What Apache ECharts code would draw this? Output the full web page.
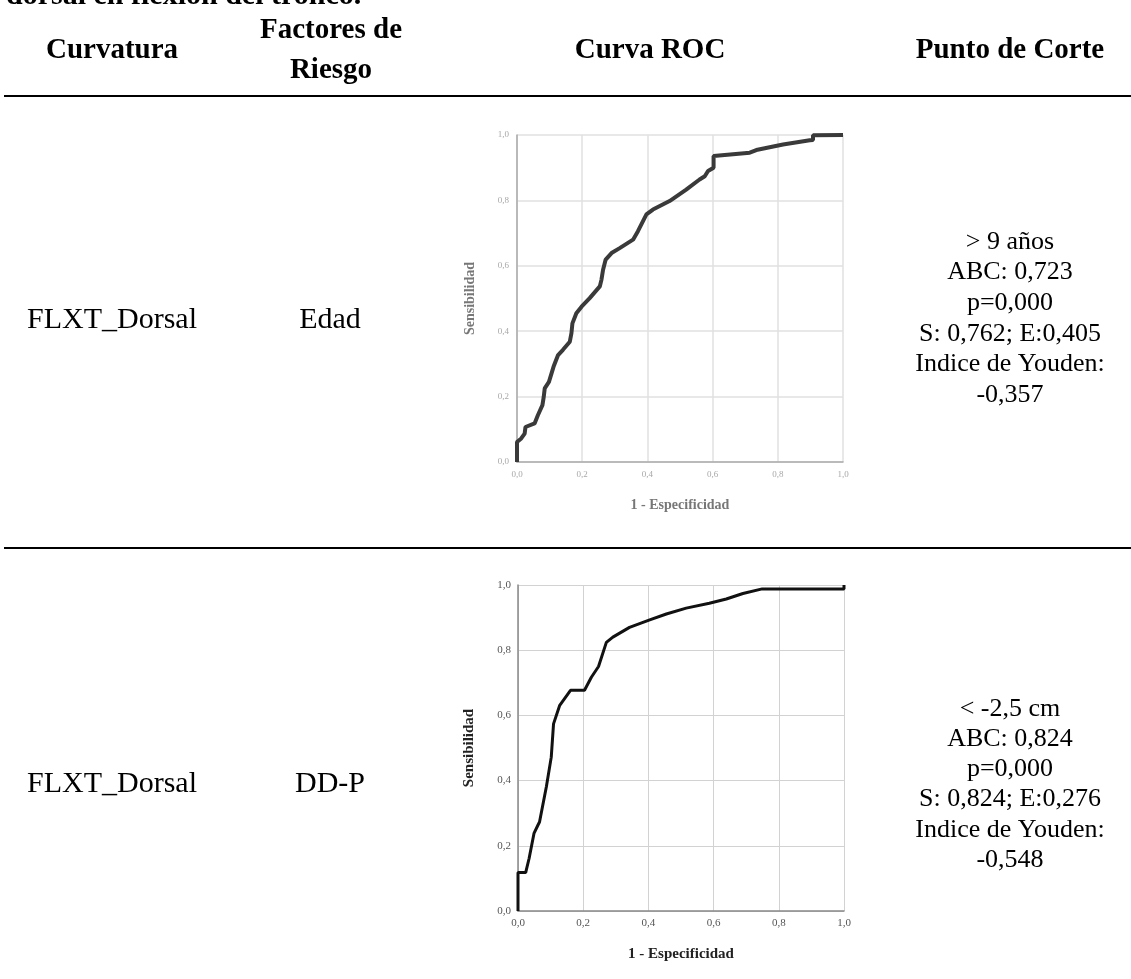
<!DOCTYPE html>
<html>
<head>
<meta charset="utf-8">
<script src="https://cdn.jsdelivr.net/npm/echarts@6/dist/echarts.min.js"></script>
<style>html,body{margin:0;padding:0;background:#fff;}#c{width:1131px;height:979px;}</style>
</head>
<body>
<div id="c"></div>
<script>
// ---- data ----
var headers = ['Curvatura', 'Factores de\nRiesgo', 'Curva ROC', 'Punto de Corte'];
var curvaturas = ['FLXT_Dorsal', 'FLXT_Dorsal'];
var factores = ['Edad', 'DD-P'];
var puntoCorte1 = ['> 9 años', 'ABC: 0,723', 'p=0,000', 'S: 0,762; E:0,405', 'Indice de Youden:', '-0,357'];
var puntoCorte2 = ['< -2,5 cm', 'ABC: 0,824', 'p=0,000', 'S: 0,824; E:0,276', 'Indice de Youden:', '-0,548'];
var tickLabels = ['0,0', '0,2', '0,4', '0,6', '0,8', '1,0'];
var roc1X = [0, 0, 0.013, 0.0235, 0.026, 0.054, 0.064, 0.078, 0.082, 0.085, 0.098, 0.112, 0.126, 0.141, 0.162, 0.167, 0.170, 0.182, 0.198, 0.223, 0.254, 0.259, 0.264, 0.272, 0.290, 0.315, 0.356, 0.371, 0.397, 0.417, 0.468, 0.519, 0.560, 0.576, 0.586, 0.603, 0.603, 0.714, 0.734, 0.816, 0.898, 0.908, 0.908, 1];
var roc1Y = [0, 0.061, 0.072, 0.087, 0.107, 0.118, 0.143, 0.174, 0.199, 0.225, 0.245, 0.291, 0.327, 0.343, 0.368, 0.394, 0.424, 0.455, 0.475, 0.501, 0.537, 0.557, 0.588, 0.619, 0.639, 0.654, 0.680, 0.706, 0.757, 0.772, 0.798, 0.833, 0.864, 0.874, 0.890, 0.900, 0.936, 0.946, 0.954, 0.971, 0.984, 0.985, 0.999, 1];
var roc2X = [0, 0, 0.0235, 0.034, 0.049, 0.061, 0.066, 0.087, 0.102, 0.109, 0.128, 0.161, 0.204, 0.225, 0.247, 0.271, 0.291, 0.342, 0.404, 0.455, 0.516, 0.587, 0.639, 0.690, 0.749, 1, 1];
var roc2Y = [0, 0.118, 0.118, 0.161, 0.238, 0.263, 0.273, 0.381, 0.472, 0.574, 0.631, 0.677, 0.677, 0.717, 0.750, 0.824, 0.840, 0.870, 0.893, 0.911, 0.929, 0.944, 0.957, 0.974, 0.988, 0.988, 1];

function pairs(xs, ys) { return xs.map(function (x, i) { return [x, ys[i]]; }); }
function tickFmt(v) { var i = Math.round(v / 0.2); return tickLabels[i] !== undefined ? tickLabels[i] : ''; }

var hdrFont = 'bold 29px "Liberation Serif", serif';
var cellFont = '30px "Liberation Serif", serif';
var tnr = '26px "Liberation Serif", serif';

var g = [];
// cut-off caption line at top (only its lower part is visible)
g.push({type: 'text', x: 6, y: 11, style: {text: 'dorsal en flexión del tronco.', font: 'bold 30px "Liberation Serif", serif', fill: '#000', align: 'left', verticalAlign: 'bottom'}});
// headers
var hdrX = [112, 331, 650, 1010];
headers.forEach(function (h, i) {
  g.push({type: 'text', x: hdrX[i], y: 51, style: {text: h, font: hdrFont, fill: '#000', align: 'center', verticalAlign: 'middle', lineHeight: 40}});
});
// rules
g.push({type: 'line', shape: {x1: 4, y1: 96, x2: 1131, y2: 96}, style: {stroke: '#000', lineWidth: 2}});
g.push({type: 'line', shape: {x1: 4, y1: 548, x2: 1131, y2: 548}, style: {stroke: '#000', lineWidth: 2}});
// row cells
var rowY = [320, 784];
rowY.forEach(function (y, i) {
  g.push({type: 'text', x: 112, y: y, style: {text: curvaturas[i], font: cellFont, fill: '#000', align: 'center', verticalAlign: 'middle'}});
  g.push({type: 'text', x: 330, y: y, style: {text: factores[i], font: cellFont, fill: '#000', align: 'center', verticalAlign: 'middle'}});
});
[[puntoCorte1, 242, 30.6], [puntoCorte2, 709, 30.2]].forEach(function (p) {
  p[0].forEach(function (t, k) {
    g.push({type: 'text', x: 1010, y: p[1] + k * p[2], style: {text: t, font: tnr, fill: '#000', align: 'center', verticalAlign: 'middle'}});
  });
});

function xAxisCfg(grid, opt) {
  return {
    type: 'value', gridIndex: grid, min: 0, max: 1, interval: 0.2,
    name: '1 - Especificidad', nameLocation: 'middle', nameGap: opt.nameGap,
    nameTextStyle: {fontFamily: 'Liberation Serif', fontWeight: 'bold', fontSize: opt.nameSize, color: opt.nameColor},
    axisLine: {show: true, lineStyle: {color: opt.axisColor, width: 1.5}},
    axisTick: {show: false},
    axisLabel: {formatter: tickFmt, fontFamily: 'Liberation Serif', fontSize: opt.labelSize, color: opt.labelColor, margin: opt.labelMargin},
    splitLine: {show: true, lineStyle: {color: opt.gridColor, width: opt.gridWidth}}
  };
}
function yAxisCfg(grid, opt) {
  return {
    type: 'value', gridIndex: grid, min: 0, max: 1, interval: 0.2,
    name: 'Sensibilidad', nameLocation: 'middle', nameGap: opt.yNameGap, nameRotate: 90,
    nameTextStyle: {fontFamily: 'Liberation Serif', fontWeight: 'bold', fontSize: opt.nameSize, color: opt.nameColor},
    axisLine: {show: true, lineStyle: {color: opt.axisColor, width: 1.5}},
    axisTick: {show: false},
    axisLabel: {formatter: tickFmt, fontFamily: 'Liberation Serif', fontSize: opt.labelSize, color: opt.labelColor, margin: opt.labelMargin},
    splitLine: {show: true, lineStyle: {color: opt.gridColor, width: opt.gridWidth}}
  };
}
var o1 = {nameGap: 36, yNameGap: 40, nameSize: 14, nameColor: '#777', axisColor: '#aaa', labelSize: 9, labelColor: '#a8a8a8', labelMargin: 8, gridColor: '#e0e0e0', gridWidth: 1.5};
var o2 = {nameGap: 36, yNameGap: 41, nameSize: 15, nameColor: '#222', axisColor: '#888', labelSize: 11, labelColor: '#555', labelMargin: 7, gridColor: '#d2d2d2', gridWidth: 1};

var chart = echarts.init(document.getElementById('c'), null, {renderer: 'canvas'});
chart.setOption({
  backgroundColor: '#fff',
  animation: false,
  grid: [
    {left: 517, top: 135, width: 326, height: 327},
    {left: 518, top: 585, width: 326, height: 326}
  ],
  xAxis: [xAxisCfg(0, o1), xAxisCfg(1, o2)],
  yAxis: [yAxisCfg(0, o1), yAxisCfg(1, o2)],
  series: [
    {type: 'line', xAxisIndex: 0, yAxisIndex: 0, data: pairs(roc1X, roc1Y), showSymbol: false, lineStyle: {color: '#3a3a3a', width: 4}},
    {type: 'line', xAxisIndex: 1, yAxisIndex: 1, data: pairs(roc2X, roc2Y), showSymbol: false, lineStyle: {color: '#111', width: 3}}
  ],
  graphic: g
});
</script>
</body>
</html>
